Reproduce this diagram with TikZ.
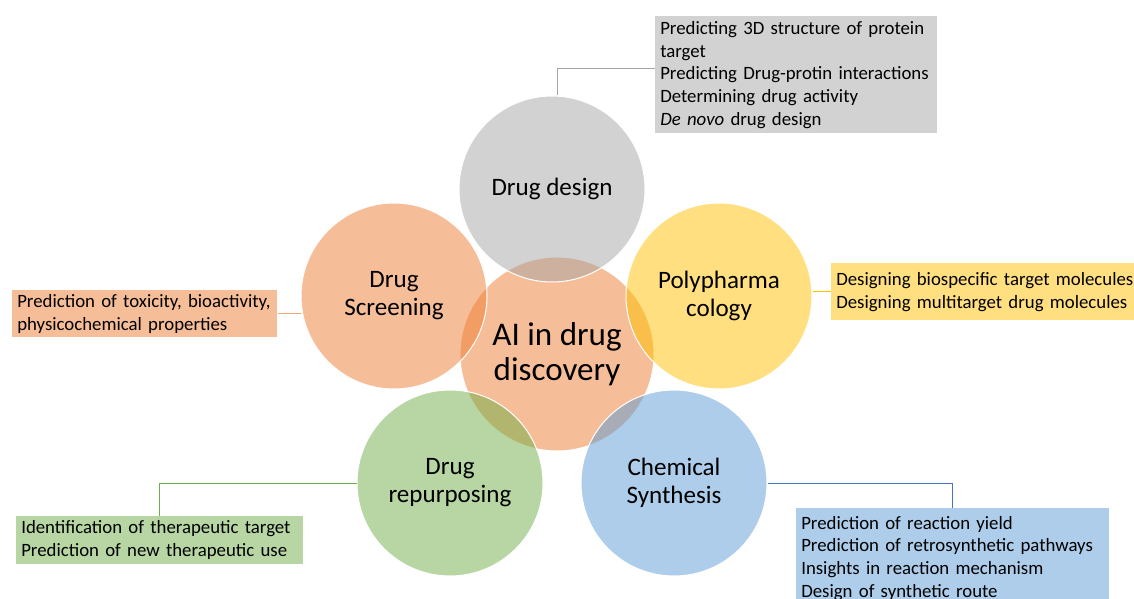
\documentclass[tikz,border=0pt]{standalone}
\usepackage{fontspec}
\setmainfont{Carlito}

\definecolor{accgray}{HTML}{A5A5A5}
\definecolor{accorange}{HTML}{ED7D31}
\definecolor{accyellow}{HTML}{FFC000}
\definecolor{accgreen}{HTML}{70AD47}
\definecolor{accblue}{HTML}{5B9BD5}
\definecolor{lineblue}{HTML}{4472C4}

\begin{document}
\begin{tikzpicture}[x=0.75pt, y=-0.75pt,
    bubble/.style={circle, minimum size=139.5pt, inner sep=0pt, draw=white,
        line width=0.75pt, fill opacity=0.5, text opacity=1, align=center,
        font=\fontsize{18.8}{21}\selectfont},
    infobox/.style={anchor=north west, inner xsep=3.75pt, inner ysep=0pt,
        align=left, font=\fontsize{14.1}{17}\selectfont},
    link/.style={line width=0.75pt}]
    \useasboundingbox (0,0) rectangle (1134,599);

    % 中间的大圆
    \node[bubble, fill=accorange, minimum size=145.5pt,
        font=\fontsize{24.8}{26.3}\selectfont] (core) at (557,354) {AI in drug\\discovery};

    % 周围的五个圆
    \node[bubble, fill=accgray] (design) at (552,189) {Drug design};
    \node[bubble, fill=accorange] (screening) at (394,296) {Drug\\Screening};
    \node[bubble, fill=accyellow] (poly) at (719,296) {Polypharma\\cology};
    \node[bubble, fill=accgreen] (repurpose) at (450,483) {Drug\\repurposing};
    \node[bubble, fill=accblue] (synth) at (674,483) {Chemical\\Synthesis};

    % 说明文字的方框
    \node[infobox, fill=accgray!50, text width=204pt, minimum height=87.75pt] (designbox) at (655,16)
        {Predicting 3D structure of protein\\target\\Predicting Drug-protin interactions\\
         Determining drug activity\\\textit{De novo} drug design};
    \node[infobox, fill=accorange!50, text width=191.25pt, minimum height=35.25pt] (screenbox) at (12,290)
        {Prediction of toxicity, bioactivity,\\physicochemical properties};
    \node[infobox, fill=accyellow!50, text width=225pt, minimum height=42.75pt] (polybox) at (831,263)
        {Designing biospecific target molecules\\Designing multitarget drug molecules};
    \node[infobox, fill=accgreen!50, text width=207.75pt, minimum height=36pt] (repurposebox) at (16,516)
        {Identification of therapeutic target\\Prediction of new therapeutic use};
    \node[infobox, fill=accblue!50, text width=227.25pt, minimum height=75pt] (synthbox) at (796,508)
        {Prediction of reaction yield\\Prediction of retrosynthetic pathways\\
         Insights in reaction mechanism\\Design of synthetic route};

    % 连线
    \draw[link, accgray] ([xshift=3.75pt]design.north) |- ([yshift=5pt]designbox.west);
    \draw[link, accorange!70] (screenbox.east) -- (screenbox.east -| screening.west);
    \draw[link, accyellow] (polybox.west -| poly.east) -- (polybox.west);
    \draw[link, accgreen] (repurpose.west) -| (repurposebox.north);
    \draw[link, lineblue] (synth.east) -| (synthbox.north);
\end{tikzpicture}
\end{document}
